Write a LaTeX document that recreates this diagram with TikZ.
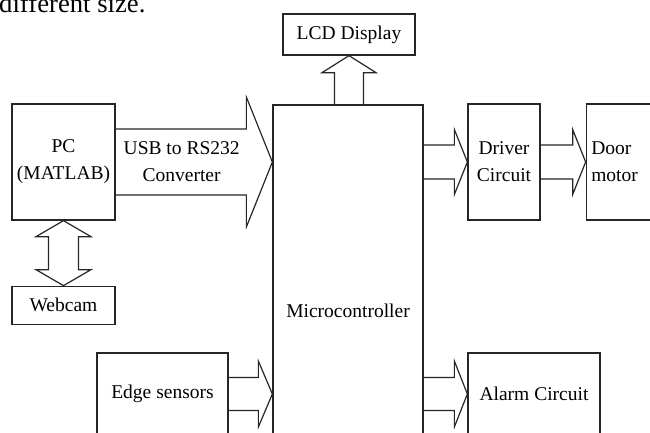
\documentclass[tikz,border=0pt]{standalone}
\usepackage{fontspec}
\setmainfont{Liberation Serif}
\usetikzlibrary{calc,positioning}

% hollow block arrow pointing right: from, tip, half shaft, half head, head length
\newcommand{\fatright}[5]{%
  \draw[fat] ($(#1)+(0,-#3)$) -- ($(#2)+(-#5,-#3)$) -- ($(#2)+(-#5,-#4)$) -- (#2)
    -- ($(#2)+(-#5,#4)$) -- ($(#2)+(-#5,#3)$) -- ($(#1)+(0,#3)$);}

\begin{document}
\begin{tikzpicture}[
  x=1pt, y=-1pt,
  font=\fontsize{19.5pt}{27pt}\selectfont,
  box/.style={draw=black!85, line width=1.3pt, align=center, inner sep=2pt},
  fat/.style={draw=black!85, line width=1.2pt, line join=miter}]
  \useasboundingbox (0,0) rectangle (650,432);
  \node[anchor=base west, inner sep=0pt, font=\fontsize{26.7pt}{30pt}\selectfont] (caption) at (-1,12) {different size.};
  % blocks
  \node[box, minimum width=103pt, minimum height=116pt] (pc) at (63.5,162) {PC\\(MATLAB)};
  \node[box, minimum width=103pt, minimum height=38pt, below=65pt of pc] (webcam) {Webcam};
  \node[box, minimum width=150pt, minimum height=412pt] (micro) at (348,311) {Microcontroller};
  \node[box, minimum width=132pt, minimum height=41pt] (lcd) at (349,34.5) {LCD Display};
  \node[box, minimum width=72pt, minimum height=116pt] (drv) at (504,162) {Driver\\Circuit};
  \node[box, text width=62pt, inner xsep=5pt, minimum height=116pt, right=45pt of drv, align=left] (door) {Door\\motor};
  \node[box, minimum width=131pt, minimum height=82pt] (edge) at (162.5,394) {Edge sensors};
  \node[box, minimum width=132pt, minimum height=82pt] (alarm) at (534,394) {Alarm Circuit};
  % block arrows
  \coordinate (usbtip) at (micro.west |- pc.east);
  \coordinate (drvfrom) at (micro.east |- drv.west);
  \coordinate (edgetip) at (micro.west |- edge.east);
  \coordinate (alarmfrom) at (micro.east |- alarm.west);
  \fatright{pc.east}{usbtip}{33}{65}{26}
  \node[align=center] (usb) at ($(pc.east)+(66,0)$) {USB to RS232\\Converter};
  \fatright{drvfrom}{drv.west}{17}{32.5}{13}
  \fatright{drv.east}{door.west}{17}{32.5}{13}
  \fatright{edge.east}{edgetip}{16.5}{33}{14}
  \fatright{alarmfrom}{alarm.west}{16.5}{33}{13}
  \coordinate (lcdfrom) at (micro.north -| lcd.south);
  \draw[fat] ($(lcdfrom)+(-14.5,0)$) -- ($(lcd.south)+(-14.5,17)$) -- ($(lcd.south)+(-27,17)$) -- (lcd.south)
    -- ($(lcd.south)+(27,17)$) -- ($(lcd.south)+(14.5,17)$) -- ($(lcdfrom)+(14.5,0)$);
  \draw[fat] (pc.south) -- ($(pc.south)+(27.5,16)$) -- ($(pc.south)+(15,16)$) -- ($(webcam.north)+(15,-16)$)
    -- ($(webcam.north)+(27.5,-16)$) -- (webcam.north) -- ($(webcam.north)+(-27.5,-16)$)
    -- ($(webcam.north)+(-15,-16)$) -- ($(pc.south)+(-15,16)$) -- ($(pc.south)+(-27.5,16)$) -- cycle;
\end{tikzpicture}
\end{document}
